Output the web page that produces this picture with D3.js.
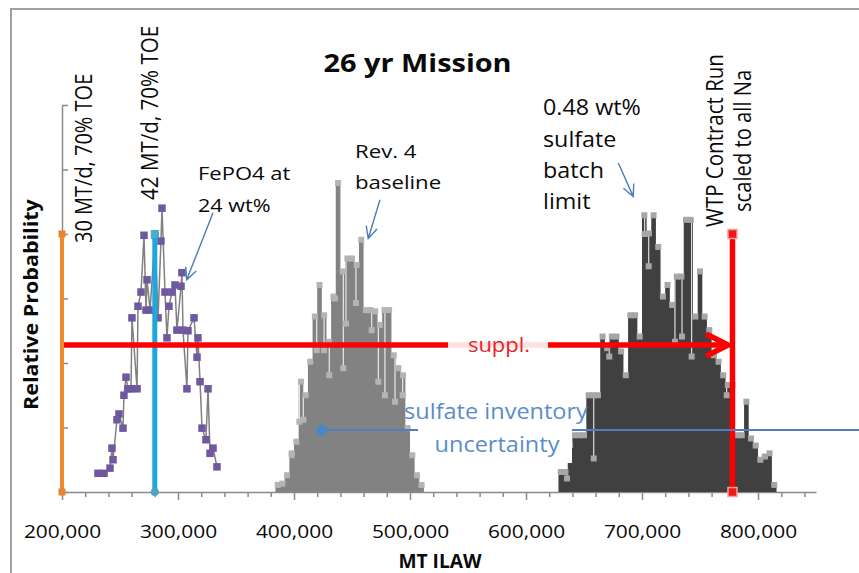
<!DOCTYPE html>
<html>
<head>
<meta charset="utf-8">
<script src="https://cdn.jsdelivr.net/npm/d3@7"></script>
<style>
  body { margin: 0; background: #fff; }
  svg { display: block; }
  text { font-family: "Open Sans", sans-serif; }
</style>
</head>
<body>
<svg id="chart" width="859" height="573"></svg>
<script>
// ---- axis ticks ----
const xTickValues = [200000, 300000, 400000, 500000, 600000, 700000, 800000];
const yTickValues = [0, 1, 2, 3, 4, 5, 6];

// ---- FePO4 at 24 wt% (line with markers) ----
const fepo4X = [231000, 236200, 241400, 243100, 244000, 247400, 249100, 252600, 253400, 255200,
                256900, 259500, 260300, 264700, 265500, 268100, 270700, 272400, 273300, 275900,
                280200, 282800, 285300, 286200, 288800, 290500, 292200, 294800, 297400, 299100,
                302600, 303400, 304300, 307700, 308600, 313800, 316400, 317200, 319000, 320700,
                324100, 325900, 327600, 330200, 333600];
const fepo4Y = [0.29, 0.29, 0.37, 0.68, 0.50, 1.12, 1.21, 0.99, 1.50, 1.78,
                1.60, 1.60, 2.70, 1.60, 2.88, 3.10, 3.98, 2.82, 3.29, 2.82,
                3.98, 2.70, 3.89, 4.40, 3.10, 2.39, 2.88, 3.10, 3.21, 2.51,
                3.19, 3.40, 2.51, 1.60, 2.50, 2.70, 2.09, 2.39, 1.71, 0.99,
                0.81, 1.60, 0.60, 0.68, 0.39];

// ---- histogram bins ----
const binWidth = 4000;

// Rev. 4 baseline
const rev4Start = 384000;
const rev4Heights = [0.11, 0.13, 0.26, 0.57, 0.78, 1.71, 1.50, 2.02, 2.72, 3.21,
                     2.74, 2.33, 3.03, 4.79, 3.42, 3.62, 3.62, 3.52, 3.91, 2.82,
                     2.82, 2.80, 2.59, 2.82, 2.82, 2.12, 1.92, 1.81, 0.99, 0.57,
                     0.26, 0.11];
const rev4InnerX = [398000, 404600, 408000, 419600, 425900, 430400, 435300, 442500,
                    444800, 453400, 467000, 472700, 478400, 487100, 493700];
const rev4InnerY = [0.60, 1.09, 1.12, 2.20, 2.20, 1.81, 3.00, 1.92,
                    2.61, 2.93, 2.51, 1.71, 1.50, 1.40, 1.50];

// 0.48 wt% sulfate batch limit
const limitStart = 628000;
const limitHeights = [0.31, 0.31, 0.73, 0.88, 0.88, 0.88, 1.50, 1.50, 1.50, 2.41,
                      2.23, 2.41, 2.41, 2.18, 1.81, 2.74, 2.74, 2.41, 4.29, 4.01,
                      4.29, 3.80, 3.03, 3.21, 2.90, 3.34, 3.34, 4.22, 4.22, 2.72,
                      3.42, 2.72, 2.51, 2.12, 2.02, 1.81, 1.66, 1.66, 0.88, 0.88,
                      1.40, 0.83, 0.72, 0.50, 0.55, 0.60, 0.11];
const limitInnerX = [635300, 658400, 671800, 702300, 705800, 728400, 734500, 742800, 773000];
const limitInnerY = [0.21, 0.52, 2.10, 4.00, 3.50, 2.33, 2.41, 2.10, 1.50];

// ---- reference cases (vertical markers) ----
const caseX = [200000, 280000, 778000];
const caseY = [4, 4, 4];

// ---- range arrows ----
const supplRange = [200000, 776000];
const supplLevel = 2.28;
const sulfateRange = [424000, 890000];
const sulfateLevel = 0.96;

// ---- callout arrows [from x, from y, to x, to y] ----
const calloutFePO4 = [330200, 4.33, 307500, 3.29];
const calloutRev4 = [474100, 4.53, 464000, 3.93];
const calloutLimit = [679600, 5.10, 692500, 4.58];

// =====================================================
const svg = d3.select("#chart");
const x = d3.scaleLinear().domain([200000, 850000]).range([62, 816]);
const y = d3.scaleLinear().domain([0, 6]).range([492, 105]);
const axisColor = "#8a8a8a";
const ink = "#0a0a0a";

// outer frame
svg.append("path").attr("d", "M11,573V9H859")
  .attr("fill", "none").attr("stroke", "#a0a0a0").attr("stroke-width", 2);

function txt(s, o) {
  return svg.append("text").text(s)
    .attr("transform", `translate(${o.x},${o.y})` + (o.rot ? ` rotate(${o.rot})` : "") +
      ` scale(${o.sx || 1},${o.sy || 1})`)
    .attr("font-size", o.size)
    .attr("font-weight", o.bold ? 700 : 400)
    .attr("text-anchor", o.anchor || "start")
    .attr("fill", o.fill || ink);
}

// ---- axes ----
const gy = svg.append("g").attr("transform", `translate(${x(200000)},0)`)
  .call(d3.axisRight(y).tickValues(yTickValues).tickSize(6).tickSizeOuter(0).tickFormat(""));
gy.select(".domain").attr("stroke", axisColor).attr("stroke-width", 1.5);
gy.selectAll(".tick line").attr("stroke", axisColor).attr("stroke-width", 1.5);

const minorTicks = d3.range(220000, 850000, 20000).filter(v => v % 100000 !== 0);
const gxm = svg.append("g").attr("transform", `translate(0,${y(0)})`)
  .call(d3.axisBottom(x).tickValues(minorTicks).tickSize(5).tickSizeOuter(0).tickFormat(""));
gxm.select(".domain").remove();
gxm.selectAll(".tick line").attr("stroke", axisColor).attr("stroke-width", 1.5);

const gx = svg.append("g").attr("transform", `translate(0,${y(0)})`)
  .call(d3.axisBottom(x).tickValues(xTickValues).tickSize(8).tickSizeOuter(0)
    .tickFormat(d3.format(",")));
gx.select(".domain").attr("stroke", axisColor).attr("stroke-width", 1.5);
gx.selectAll(".tick line").attr("stroke", axisColor).attr("stroke-width", 1.5);
gx.selectAll(".tick text")
  .attr("y", 46).attr("dy", null)
  .attr("transform", "scale(1.15,1)")
  .attr("font-size", 18.2)
  .attr("font-family", "Open Sans")
  .attr("fill", ink);

// ---- histograms ----
function histogram(start, heights, innerX, innerY, fill, markFill) {
  const g = svg.append("g");
  const pts = heights.map((h, i) => [start + i * binWidth, h]);
  pts.push([start + heights.length * binWidth, heights[heights.length - 1]]);
  const area = d3.area().x(d => x(d[0])).y0(y(0)).y1(d => y(d[1])).curve(d3.curveStepAfter);
  g.append("path").attr("d", area(pts)).attr("fill", fill);

  const topAt = v => heights[Math.max(0, Math.min(heights.length - 1,
    Math.floor((v - start) / binWidth)))];
  const inner = innerX.map((v, i) => [v, innerY[i]]);

  g.selectAll("line.stem").data(inner).join("line").attr("class", "stem")
    .attr("x1", d => x(d[0])).attr("x2", d => x(d[0]))
    .attr("y1", d => y(d[1])).attr("y2", d => y(topAt(d[0])))
    .attr("stroke", "#fff").attr("stroke-width", 1.1).attr("opacity", 0.9);

  const ms = 6;
  g.selectAll("rect.top").data(heights).join("rect").attr("class", "top")
    .attr("x", (h, i) => x(start + (i + 0.5) * binWidth) - ms / 2)
    .attr("y", h => y(h) - ms / 2)
    .attr("width", ms).attr("height", ms).attr("fill", markFill);

  g.selectAll("rect.inner").data(inner).join("rect").attr("class", "inner")
    .attr("x", d => x(d[0]) - ms / 2).attr("y", d => y(d[1]) - ms / 2)
    .attr("width", ms).attr("height", ms).attr("fill", markFill);
}
histogram(rev4Start, rev4Heights, rev4InnerX, rev4InnerY, "#828282", "#b4b4b4");
histogram(limitStart, limitHeights, limitInnerX, limitInnerY, "#404040", "#a6a6a6");

// ---- FePO4 series ----
const fepo4 = fepo4X.map((v, i) => [v, fepo4Y[i]]);
svg.append("path")
  .attr("d", d3.line().x(d => x(d[0])).y(d => y(d[1]))(fepo4))
  .attr("fill", "none").attr("stroke", "#808080").attr("stroke-width", 1.5);
svg.selectAll("rect.fepo4").data(fepo4).join("rect").attr("class", "fepo4")
  .attr("x", d => x(d[0]) - 3.75).attr("y", d => y(d[1]) - 3.75)
  .attr("width", 7.5).attr("height", 7.5).attr("fill", "#6f58a0");

// ---- 42 MT/d case (blue) ----
svg.append("line")
  .attr("x1", x(caseX[1])).attr("x2", x(caseX[1]))
  .attr("y1", y(0)).attr("y2", y(caseY[1]))
  .attr("stroke", "#1ea6de").attr("stroke-width", 5);
svg.append("rect").attr("x", x(caseX[1]) - 4).attr("y", y(caseY[1]) - 4)
  .attr("width", 8).attr("height", 8).attr("fill", "#48aecd");
svg.append("circle").attr("cx", x(caseX[1])).attr("cy", y(0)).attr("r", 4)
  .attr("fill", "#48a6c4");

// ---- WTP contract run (red vertical) ----
svg.append("line")
  .attr("x1", x(caseX[2])).attr("x2", x(caseX[2]))
  .attr("y1", y(0)).attr("y2", y(caseY[2]))
  .attr("stroke", "#ff0000").attr("stroke-width", 5.5);
[0, caseY[2]].forEach(v => {
  svg.append("rect").attr("x", x(caseX[2]) - 4.5).attr("y", y(v) - 4.5)
    .attr("width", 9).attr("height", 9).attr("fill", "#f01818")
    .attr("stroke", "#f4a0a0").attr("stroke-width", 1.5);
});

// ---- supplemental range arrow (red) ----
const sy0 = y(supplLevel);
const tipX = x(supplRange[1]);
svg.append("line")
  .attr("x1", x(supplRange[0])).attr("x2", tipX - 3)
  .attr("y1", sy0).attr("y2", sy0)
  .attr("stroke", "#ff0000").attr("stroke-width", 5.5);
svg.append("path")
  .attr("d", `M${tipX - 24},${sy0 - 11}L${tipX - 2},${sy0}L${tipX - 24},${sy0 + 11}`)
  .attr("fill", "none").attr("stroke", "#ff0000").attr("stroke-width", 5.5)
  .attr("stroke-linejoin", "miter");
svg.append("rect").attr("x", 448).attr("y", sy0 - 10).attr("width", 100).attr("height", 24)
  .attr("fill", "#fff").attr("opacity", 0.88);
txt("suppl.", { x: 499, y: sy0 + 7, size: 20, sx: 1.1, anchor: "middle", fill: "#e4242c" });

// ---- 30 MT/d case (orange) ----
svg.append("line")
  .attr("x1", x(caseX[0])).attr("x2", x(caseX[0]))
  .attr("y1", y(0)).attr("y2", y(caseY[0]))
  .attr("stroke", "#f08a2c").attr("stroke-width", 4);
[0, caseY[0]].forEach(v => {
  svg.append("rect").attr("x", x(caseX[0]) - 3.5).attr("y", y(v) - 3.5)
    .attr("width", 7).attr("height", 7).attr("fill", "#e8842c");
});

// ---- sulfate inventory uncertainty arrow (blue) ----
const by0 = y(sulfateLevel);
svg.append("line")
  .attr("x1", x(sulfateRange[0])).attr("x2", x(sulfateRange[1]))
  .attr("y1", by0).attr("y2", by0)
  .attr("stroke", "#4f7fbf").attr("stroke-width", 2);
svg.append("circle").attr("cx", x(sulfateRange[0])).attr("cy", by0).attr("r", 5.5)
  .attr("fill", "#4a86c8");
svg.append("rect").attr("x", 418).attr("y", 396).attr("width", 154).attr("height", 67)
  .attr("fill", "#fff");
txt("sulfate inventory", { x: 496, y: 419, size: 21, sx: 1.12, anchor: "middle", fill: "#5b8ccb" });
txt("uncertainty", { x: 497, y: 452, size: 21, sx: 1.12, anchor: "middle", fill: "#5b8ccb" });

// ---- callouts ----
function callout(c) {
  const x1 = x(c[0]), y1 = y(c[1]), x2 = x(c[2]), y2 = y(c[3]);
  const a = Math.atan2(y2 - y1, x2 - x1), L = 13, phi = 0.45;
  svg.append("path")
    .attr("d", `M${x1},${y1}L${x2},${y2}` +
      `M${x2 - L * Math.cos(a - phi)},${y2 - L * Math.sin(a - phi)}L${x2},${y2}` +
      `L${x2 - L * Math.cos(a + phi)},${y2 - L * Math.sin(a + phi)}`)
    .attr("fill", "none").attr("stroke", "#4a7ebb").attr("stroke-width", 1.4);
}
callout(calloutFePO4);
callout(calloutRev4);
callout(calloutLimit);

// ---- annotation text ----
txt("FePO4 at", { x: 198, y: 180, size: 18.8, sx: 1.17 });
txt("24 wt%", { x: 198, y: 212, size: 18.8, sx: 1.15 });
txt("Rev. 4", { x: 355, y: 158, size: 18.8, sx: 1.18 });
txt("baseline", { x: 355, y: 189, size: 18.8, sx: 1.18 });
txt("0.48 wt%", { x: 543, y: 115, size: 21, sx: 1.11 });
txt("sulfate", { x: 543, y: 147, size: 21, sx: 1.11 });
txt("batch", { x: 543, y: 178, size: 21, sx: 1.11 });
txt("limit", { x: 543, y: 209, size: 21, sx: 1.11 });

txt("30 MT/d, 70% TOE", { x: 92, y: 243, rot: -90, size: 20, sy: 1.15 });
txt("42 MT/d, 70% TOE", { x: 158, y: 200, rot: -90, size: 20.6, sy: 1.15 });
txt("WTP Contract Run", { x: 723, y: 227, rot: -90, size: 20.5, sy: 1.15 });
txt("scaled to all Na", { x: 751, y: 212, rot: -90, size: 20.2, sy: 1.15 });

// ---- titles ----
txt("26 yr Mission", { x: 417.5, y: 72, size: 25.6, sx: 1.13, bold: true, anchor: "middle" });
txt("Relative Probability", { x: 38, y: 410, rot: -90, size: 21.5, sy: 0.87, bold: true });
txt("MT ILAW", { x: 440, y: 568, size: 20, sx: 0.96, bold: true, anchor: "middle" });
</script>
</body>
</html>
